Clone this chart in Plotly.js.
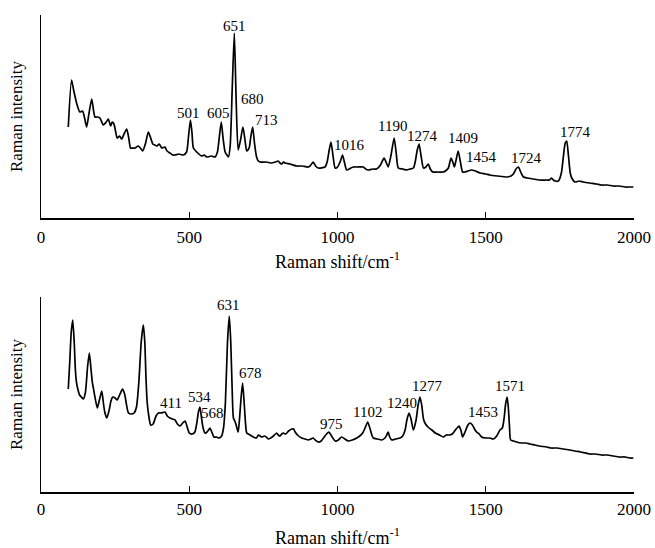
<!DOCTYPE html>
<html>
<head>
<meta charset="utf-8">
<script src="https://cdn.plot.ly/plotly-3.0.1.min.js"></script>
<style>html,body{margin:0;padding:0;background:#fff;}#chart{width:655px;height:548px;}</style>
</head>
<body>
<div id="chart"></div>
<script>
// Top spectrum (Raman shift cm-1, relative intensity)
var shiftA = [92,103,110,120,131,140,147,154,162,171,177,182,190,199,210,220,227,235,240,246,252,257,265,272,280,289,296,302,310,317,328,335,343,352,362,370,377,384,390,399,407,418,425,435,444,452,465,480,491,497,504,509,514,525,542,550,559,575,587,595,601,608,614,621,627,632,638,645,652,658,665,673,681,688,694,702,708,714,720,727,733,739,760,778,790,800,806,812,818,823,840,850,862,880,902,910,918,926,935,958,965,972,978,985,992,1000,1010,1017,1024,1031,1045,1055,1065,1087,1095,1104,1120,1132,1145,1157,1165,1171,1180,1191,1198,1205,1220,1233,1245,1256,1262,1269,1275,1282,1290,1298,1306,1313,1321,1340,1357,1368,1374,1383,1390,1394,1400,1407,1414,1422,1430,1440,1452,1465,1481,1500,1514,1540,1571,1585,1593,1602,1610,1618,1627,1640,1660,1680,1705,1715,1722,1728,1734,1745,1755,1762,1768,1773,1779,1785,1790,1801,1815,1829,1850,1874,1890,1910,1930,1950,1970,1985,1998];
var intensityA = [91,138,128,115,106,107,100,91,105,119,108,101,101,100,93,96,99,92,96,94,86,80,82,79,84,89,80,70,70,70,72,70,67,74,86,80,74,73,72,74,70,71,67,65,63,63,64,63,66,80,98,86,70,66,62,63,61,62,61,66,80,96,80,66,63,61,72,130,185,120,68,78,91,78,67,70,82,91,75,61,57,56,56,55,56,57,55,54,56,55,54,53,52,52,51,53,56,52,50,51,56,68,76,62,50,51,57,63,55,48,50,51,51,51,49,48,49,49,53,60,55,51,62,80,65,50,49,48,49,50,56,68,74,62,50,51,54,49,46,46,46,48,50,60,55,51,58,67,57,46,46,47,48,47,45,44,43,42,41,42,44,49,51,46,41,40,39,38,38,38,40,38,37,37,45,62,75,77,62,45,40,36,37,36,35,34,33,33,32,32,31,31,31];
var peakLabelsA = ["501","605","651","680","713","1016","1190","1274","1409","1454","1724","1774"];
var labelXA = [499,600,654,712,759,1042,1184,1285,1423,1487,1639,1801];
var labelYA = [105,105,192,119,98,73,92,82,80,61,60,86];

// Bottom spectrum
var shiftB = [92,97,102,107,112,116,120,125,130,136,143,150,157,163,168,173,176,182,190,197,205,210,215,222,230,236,242,250,257,265,275,282,288,295,305,314,322,330,338,345,350,354,358,364,370,378,388,396,405,418,426,435,443,452,460,469,478,486,493,500,510,519,526,531,536,541,546,553,560,565,570,576,583,592,600,609,616,622,629,635,640,645,649,655,660,665,670,675,680,685,690,694,705,716,727,733,744,755,767,780,795,800,806,812,817,825,835,846,852,857,865,879,890,902,910,918,925,935,945,955,963,971,980,992,1003,1014,1025,1036,1050,1065,1075,1085,1093,1102,1110,1117,1121,1135,1149,1160,1166,1171,1176,1183,1196,1211,1220,1228,1234,1241,1248,1256,1265,1272,1278,1284,1290,1295,1305,1318,1330,1344,1357,1367,1377,1387,1395,1403,1410,1416,1422,1430,1440,1447,1455,1462,1469,1478,1486,1500,1513,1526,1537,1548,1556,1562,1567,1572,1576,1580,1584,1594,1604,1620,1635,1649,1665,1680,1705,1720,1740,1762,1784,1800,1820,1852,1870,1890,1910,1930,1950,1970,1985,1998];
var intensityB = [103,130,160,172,150,122,109,102,97,95,93,100,125,139,125,110,105,95,84,92,101,90,80,74,82,91,95,94,92,97,103,98,88,79,78,79,85,110,150,167,150,115,90,75,67,68,76,79,79,80,76,74,73,72,68,66,69,71,65,59,58,60,70,80,85,75,65,59,60,62,64,60,55,55,54,56,65,90,150,176,150,100,74,70,65,60,75,95,109,90,68,59,57,55,54,57,55,56,53,55,59,57,56,58,59,58,61,63,63,60,57,54,53,52,53,54,52,50,51,55,58,60,56,51,52,55,53,51,52,54,56,59,64,70,63,56,54,53,52,54,57,60,55,52,53,54,56,62,72,79,73,62,72,87,95,87,73,69,65,62,59,57,55,57,57,58,61,64,66,62,55,60,67,69,67,63,60,58,55,54,54,53,56,62,64,74,88,95,85,66,52,51,50,49,49,48,47,46,45,44,44,43,42,41,40,38,38,37,37,36,35,35,34,34];
var peakLabelsB = ["411","534","568","631","678","975","1102","1240","1277","1453","1571"];
var labelXB = [438,536,580,634,705,981,1100,1218,1305,1491,1582];
var labelYB = [89,95,79,187,119,68,80,89,106,80,106];

var xTicks = [0,500,1000,1500,2000];

var serif = "Liberation Serif, Times New Roman, serif";

function xAxis(anchor, titleStandoff, labelStandoff) {
  return {
    anchor: anchor, range: [0, 2000], tickvals: xTicks, ticktext: xTicks.map(String),
    ticks: "inside", ticklen: 6, tickwidth: 1.3, tickcolor: "#000",
    showline: true, linecolor: "#000", linewidth: 1.5, showgrid: false, zeroline: false,
    tickfont: {family: serif, size: 17, color: "#000"}, ticklabelstandoff: labelStandoff,
    title: {text: "Raman shift/cm<sup>-1</sup>", font: {family: serif, size: 18, color: "#000"}, standoff: titleStandoff},
    automargin: false, fixedrange: true
  };
}
function yAxis(anchor, domain, top) {
  return {
    anchor: anchor, domain: domain, range: [0, top],
    showticklabels: false, ticks: "", showline: true, linecolor: "#000", linewidth: 1.5,
    showgrid: false, zeroline: false,
    title: {text: "Raman intensity", font: {family: serif, size: 17, color: "#000"}, standoff: 12},
    automargin: false, fixedrange: true
  };
}

var traces = [
  {x: shiftA, y: intensityA, xaxis: "x", yaxis: "y", type: "scatter", mode: "lines",
   line: {color: "#000", width: 1.7, shape: "spline", smoothing: 0.6}, hoverinfo: "skip"},
  {x: shiftB, y: intensityB, xaxis: "x2", yaxis: "y2", type: "scatter", mode: "lines",
   line: {color: "#000", width: 1.7, shape: "spline", smoothing: 0.6}, hoverinfo: "skip"}
];

var annotations = [];
peakLabelsA.forEach(function (t, i) {
  annotations.push({x: labelXA[i], y: labelYA[i], xref: "x", yref: "y", text: t, showarrow: false,
    font: {family: serif, size: 15, color: "#000"}});
});
peakLabelsB.forEach(function (t, i) {
  annotations.push({x: labelXB[i], y: labelYB[i], xref: "x2", yref: "y2", text: t, showarrow: false,
    font: {family: serif, size: 15, color: "#000"}});
});

var layout = {
  width: 655, height: 548,
  margin: {l: 41, r: 21, t: 15, b: 56},
  paper_bgcolor: "#fff", plot_bgcolor: "#fff",
  showlegend: false,
  xaxis: xAxis("y", 9, 3),
  yaxis: yAxis("x", [0.5744, 1], 203),
  xaxis2: xAxis("y2", 21, 1),
  yaxis2: yAxis("x2", [0, 0.4088], 195),
  annotations: annotations
};

Plotly.newPlot("chart", traces, layout, {staticPlot: true, displayModeBar: false});
</script>
</body>
</html>
